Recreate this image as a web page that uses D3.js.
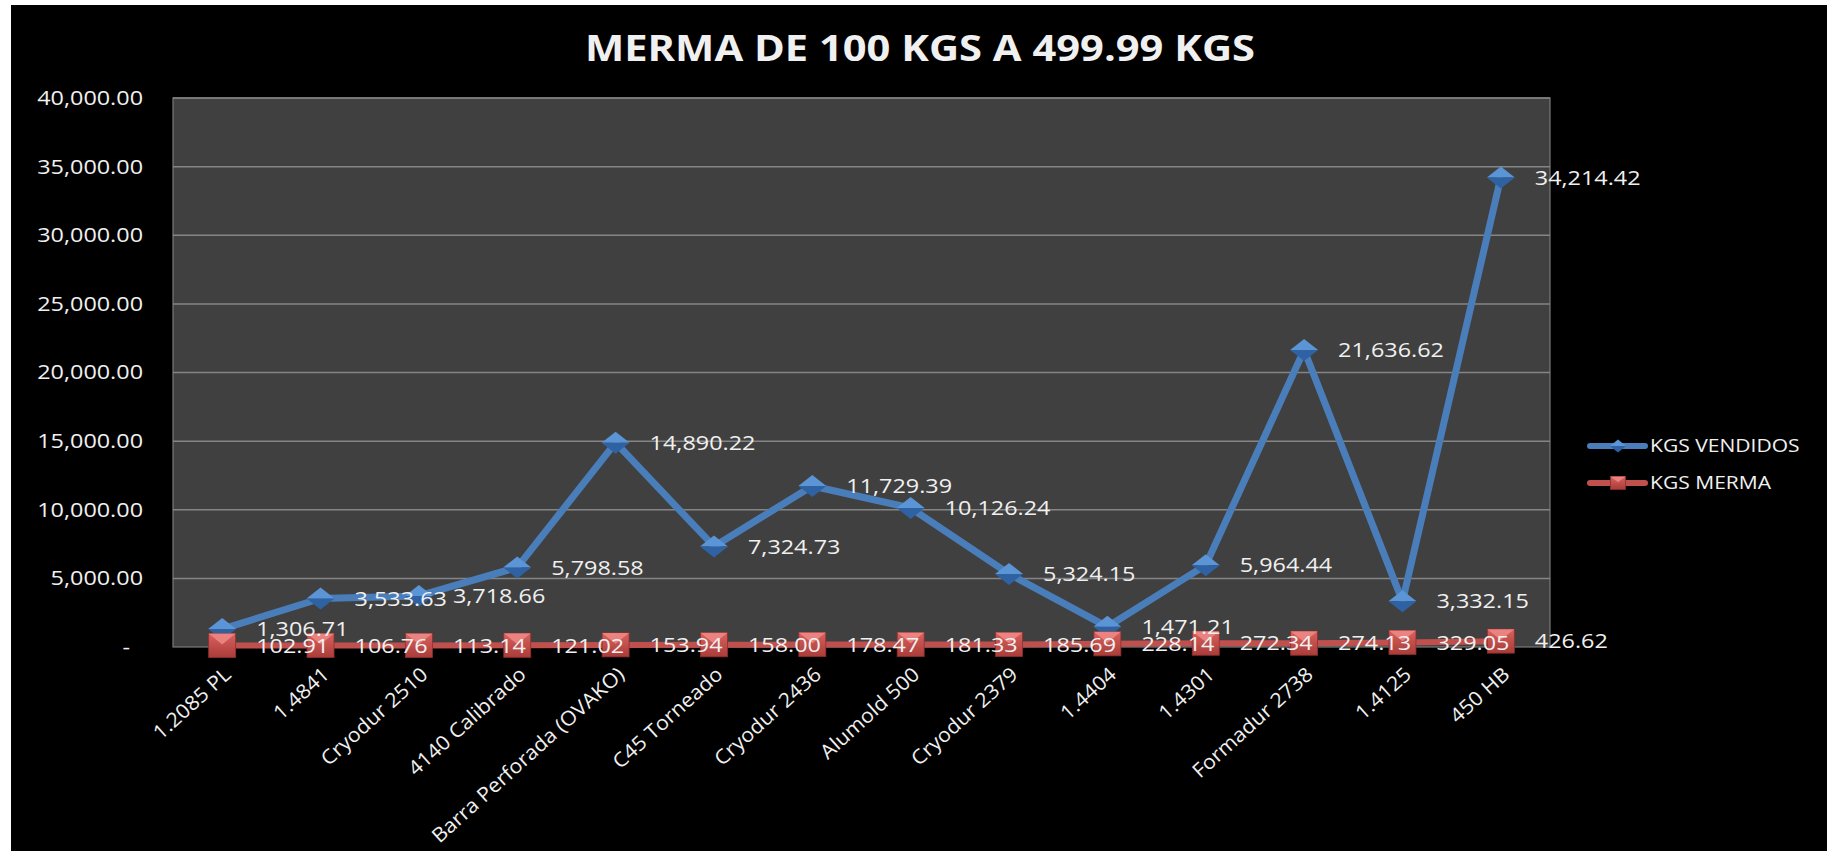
<!DOCTYPE html>
<html>
<head>
<meta charset="utf-8">
<script src="https://cdn.jsdelivr.net/npm/d3@7"></script>
<style>
  body { margin: 0; background: #ffffff; }
  text { font-family: "Open Sans", sans-serif; fill: #f0f0f0; }
</style>
</head>
<body>
<div id="chart"></div>
<script>
// chart data
let categories = ["1.2085 PL", "1.4841", "Cryodur 2510", "4140 Calibrado", "Barra Perforada (OVAKO)",
  "C45 Torneado", "Cryodur 2436", "Alumold 500", "Cryodur 2379", "1.4404", "1.4301",
  "Formadur 2738", "1.4125", "450 HB"];
let kgsVendidos = [1306.71, 3533.63, 3718.66, 5798.58, 14890.22, 7324.73, 11729.39,
  10126.24, 5324.15, 1471.21, 5964.44, 21636.62, 3332.15, 34214.42];
let kgsMerma = [102.91, 106.76, 113.14, 121.02, 153.94, 158.00, 178.47,
  181.33, 185.69, 228.14, 272.34, 274.13, 329.05, 426.62];
let seriesNames = ["KGS VENDIDOS", "KGS MERMA"];
let yTicks = [0, 5000, 10000, 15000, 20000, 25000, 30000, 35000, 40000];
let chartTitle = "MERMA DE 100 KGS A 499.99 KGS";

// svg attributes
let svgWidth = 1831;
let svgHeight = 851;
let plot = {left: 173, right: 1550, top: 98, bottom: 647};
let stretch = 1.17; // the reference text is wider than normal

let svg = d3.select("#chart")
  .append("svg")
  .attr("width", svgWidth)
  .attr("height", svgHeight);

// black chart background inside a thin white frame
svg.append("rect")
  .attr("x", 11).attr("y", 5)
  .attr("width", 1816).attr("height", svgHeight - 5)
  .attr("fill", "#000000");

// gradients for the markers
let defs = svg.append("defs");
let redGrad = defs.append("linearGradient").attr("id", "redGrad")
  .attr("x1", 0).attr("y1", 0).attr("x2", 0).attr("y2", 1);
redGrad.append("stop").attr("offset", "0%").attr("stop-color", "#d9615e");
redGrad.append("stop").attr("offset", "100%").attr("stop-color", "#a93c39");

// scales
let xScale = d3.scalePoint()
  .domain(categories)
  .range([plot.left, plot.right])
  .padding(0.5);

let yScale = d3.scaleLinear()
  .domain([0, 40000])
  .range([plot.bottom, plot.top]);

// plot area
svg.append("rect")
  .attr("x", plot.left).attr("y", plot.top)
  .attr("width", plot.right - plot.left).attr("height", plot.bottom - plot.top)
  .attr("fill", "#404040")
  .attr("stroke", "#7a7a7a")
  .attr("stroke-width", 1.2);

// gridlines
svg.append("g")
  .selectAll("line")
  .data(yTicks.filter(d => d > 0))
  .enter()
  .append("line")
  .attr("x1", plot.left).attr("x2", plot.right)
  .attr("y1", d => yScale(d)).attr("y2", d => yScale(d))
  .attr("stroke", "#858585")
  .attr("stroke-width", 1.5);

// y axis
let yAxis = svg.append("g")
  .attr("transform", `translate(${plot.left},0)`)
  .call(d3.axisLeft(yScale)
    .tickValues(yTicks)
    .tickSize(0)
    .tickPadding(30)
    .tickFormat(d => d === 0 ? "-" : d3.format(",.2f")(d)));
yAxis.select(".domain").remove();
yAxis.selectAll("text")
  .attr("font-size", 20)
  .attr("font-family", null)
  .attr("fill", "#f0f0f0")
  .attr("x", d => (d === 0 ? -43 : -30) / stretch)
  .attr("transform", `scale(${stretch},1)`);

// x axis
let xAxis = svg.append("g")
  .attr("transform", `translate(0,${plot.bottom})`)
  .call(d3.axisBottom(xScale).tickSize(0));
xAxis.select(".domain").remove();
xAxis.selectAll("text")
  .attr("font-size", 20)
  .attr("font-family", null)
  .attr("fill", "#f0f0f0")
  .attr("text-anchor", "end")
  .attr("x", 0).attr("y", 0).attr("dy", "0.35em")
  .attr("transform", "translate(5,24) rotate(-42) scale(1.07,1)");

// lines
let line = d3.line()
  .x((d, i) => xScale(categories[i]))
  .y(d => yScale(d));

svg.append("path")
  .datum(kgsVendidos)
  .attr("d", line)
  .attr("fill", "none")
  .attr("stroke", "#4a7ebb")
  .attr("stroke-width", 7)
  .attr("stroke-linejoin", "round");

svg.append("path")
  .datum(kgsMerma)
  .attr("d", line)
  .attr("fill", "none")
  .attr("stroke", "#c0504d")
  .attr("stroke-width", 6)
  .attr("stroke-linejoin", "round");

// marker drawers
function diamond(g, w, h) {
  g.append("path")
    .attr("d", `M${-w},0 L0,${-h} L${w},0 Z`)
    .attr("fill", "#5b95d6");
  g.append("path")
    .attr("d", `M${-w},0 L0,${h} L${w},0 Z`)
    .attr("fill", "#2f62a3");
}

function square(g, w, h) {
  g.append("rect")
    .attr("x", -w).attr("y", -h)
    .attr("width", 2 * w).attr("height", 2 * h)
    .attr("fill", "url(#redGrad)")
    .attr("stroke", "#8e2f2d")
    .attr("stroke-width", 0.8);
  g.append("path")
    .attr("d", `M${-w},${-h} L${w},${-h} L0,${-h * 0.1} Z`)
    .attr("fill", "#ee8a87")
    .attr("opacity", 0.85);
}

svg.append("g")
  .selectAll("g")
  .data(kgsVendidos)
  .enter()
  .append("g")
  .attr("transform", (d, i) => `translate(${xScale(categories[i])},${yScale(d)})`)
  .each(function() { diamond(d3.select(this), 14, 11); });

svg.append("g")
  .selectAll("g")
  .data(kgsMerma)
  .enter()
  .append("g")
  .attr("transform", (d, i) => `translate(${xScale(categories[i])},${yScale(d)})`)
  .each(function() { square(d3.select(this), 13.5, 12); });

// data labels (to the right of each point)
let fmt = d3.format(",.2f");
function labels(data) {
  svg.append("g")
    .selectAll("text")
    .data(data)
    .enter()
    .append("text")
    .attr("transform", (d, i) => `translate(${xScale(categories[i]) + 34},${yScale(d)}) scale(${stretch},1)`)
    .attr("dy", "0.36em")
    .attr("font-size", 20)
    .text(d => fmt(d));
}
labels(kgsVendidos);
labels(kgsMerma);

// title
svg.append("text")
  .attr("x", 585).attr("y", 61)
  .attr("font-size", 36)
  .attr("font-weight", "bold")
  .attr("fill", "#ffffff")
  .attr("textLength", 670)
  .attr("lengthAdjust", "spacingAndGlyphs")
  .text(chartTitle);

// legend
let legendRows = [446, 483];
let legend = svg.append("g");
seriesNames.forEach((name, i) => {
  let g = legend.append("g").attr("transform", `translate(0,${legendRows[i]})`);
  g.append("line")
    .attr("x1", 1590).attr("x2", 1645)
    .attr("stroke", i === 0 ? "#4a7ebb" : "#c0504d")
    .attr("stroke-width", 6)
    .attr("stroke-linecap", "round");
  let m = g.append("g").attr("transform", "translate(1618,0)");
  if (i === 0) diamond(m, 8, 6.5);
  else square(m, 7.5, 6.5);
  g.append("text")
    .attr("transform", `translate(1650,0) scale(${stretch},1)`)
    .attr("dy", "0.36em")
    .attr("font-size", 18)
    .text(name);
});
</script>
</body>
</html>
